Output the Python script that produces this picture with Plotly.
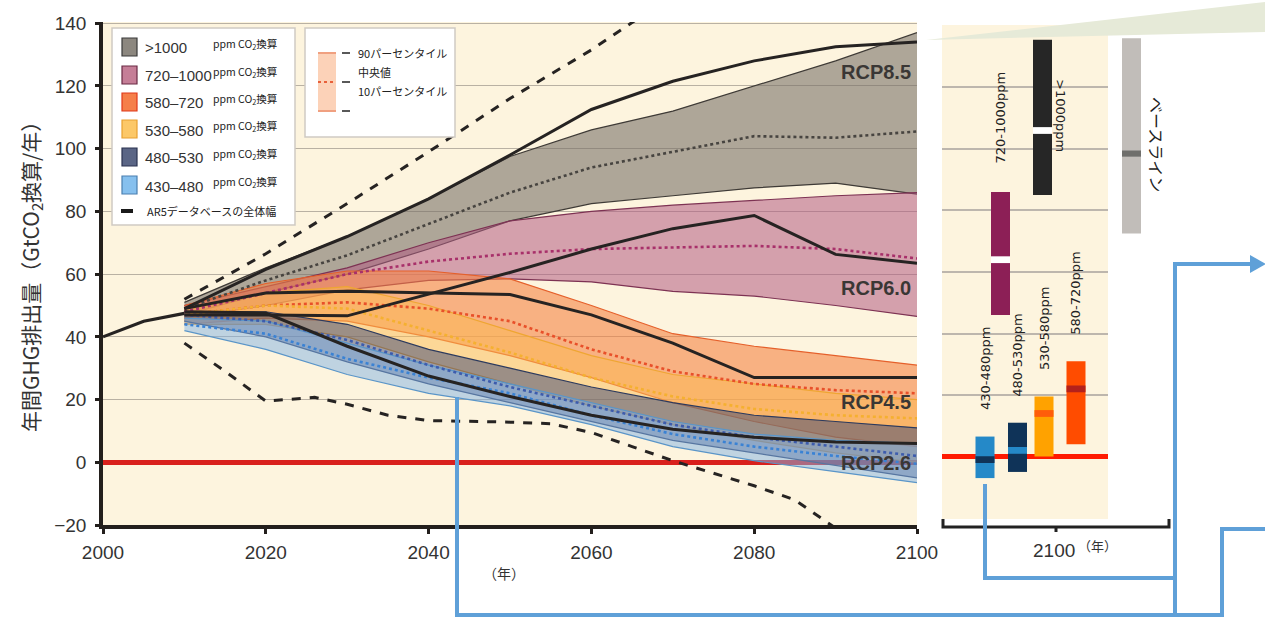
import plotly.graph_objects as go

W, H = 1265, 618

# ---------------- data ----------------
years = [2010, 2020, 2030, 2040, 2050, 2060, 2070, 2080, 2090, 2100]

# 10th percentile / median / 90th percentile by CO2-eq concentration category (GtCO2eq/yr)
c1000_p10 = [47, 54, 60, 68, 77, 82.5, 85, 87.5, 89, 85.5]
c1000_med = [49, 58, 66, 76, 86, 94, 99, 104, 103.5, 105.5]
c1000_p90 = [51, 62, 72, 84, 97.5, 106, 112, 120, 128, 137]

c720_p10 = [46, 50, 55, 58, 58.5, 57.5, 54.5, 53, 50, 46.5]
c720_med = [48, 54, 60, 64, 66.5, 68, 68.5, 69, 68, 65]
c720_p90 = [50, 56, 62, 70, 77, 80, 82, 83.5, 85, 86]

c580_p10 = [44, 46, 45, 40, 34, 27, 19, 13, 8, 5]
c580_med = [47, 50, 51, 49, 45, 36, 29, 25, 23, 22]
c580_p90 = [50, 57, 61, 61, 58.5, 50, 41, 37, 34, 31]

c530_p10 = [44, 44, 40, 32, 25, 18, 12, 7, 3, 0]
c530_med = [47, 50, 49, 42, 35, 27, 21, 17, 15, 14]
c530_p90 = [49, 54, 56, 50, 42, 34, 28, 25, 22, 20]

c480_p10 = [45, 40, 32, 25, 19, 13, 7, 3, -1, -5]
c480_med = [47, 45, 39, 31, 24, 18, 12, 8, 5, 2]
c480_p90 = [48, 48, 44, 36, 30, 24, 19, 15, 13, 11]

c430_p10 = [42, 36, 28, 22, 18, 12, 5, 0.5, -3, -6.5]
c430_med = [44, 41, 33, 27, 22, 15, 9, 5, 2, -0.5]
c430_p90 = [46, 45, 38, 31, 25, 19, 13, 9, 7, 6]

# historical emissions
hist_years = [2000, 2005, 2010]
hist_vals = [40, 45, 47.5]

# RCP pathways
rcp85 = [49, 61.5, 72, 84, 98, 112.5, 121.5, 128, 132.5, 134]
rcp60 = [47, 47, 46.7, 53.5, 60.5, 68, 74.5, 78.7, 66.3, 63.5]
rcp45 = [49, 54, 54.5, 54, 53.5, 47, 38, 27, 27, 27]
rcp26 = [48, 47.6, 37, 27.5, 21, 15, 10.5, 8, 6.5, 6]

# full range of the AR5 scenario database
ar5_hi_years = [2010, 2020, 2030, 2040, 2050, 2060, 2066]
ar5_hi_vals = [52, 66.5, 82.5, 99, 116, 131.5, 142]
ar5_lo_years = [2010, 2015, 2020, 2023, 2026, 2030, 2035, 2040, 2050, 2055, 2060,
                2065, 2070, 2080, 2085, 2090]
ar5_lo_vals = [38, 29, 19.5, 20, 20.7, 18.5, 15, 13.3, 12.8, 12.3, 9.5,
               5, 0.5, -7.5, -12, -21]

# 2100 ranges (right panel)
bar_labels = ["430-480ppm", "480-530ppm", "530-580ppm", "580-720ppm",
              "720-1000ppm", ">1000ppm"]
bar_low = [-7, -5, 0, 4, 46, 85]
bar_high = [6.5, 11, 19.5, 31, 86, 135.5]
bar_med = [-1, 2, 14, 22, 64, 106]
base_label = "ベースライン"
base_low, base_high, base_med = 72.5, 136, 98.5

legend_cats = [">1000", "720–1000", "580–720", "530–580", "480–530", "430–480"]
y_ticks = [-20, 0, 20, 40, 60, 80, 100, 120, 140]
x_ticks = [2000, 2020, 2040, 2060, 2080, 2100]

# ---------------- styles ----------------
COND = "Liberation Sans, Arial, sans-serif"
JP = "Noto Sans CJK JP, sans-serif"
DV = "DejaVu Sans, sans-serif"
CREAM = "#fdf4de"

band_fill = ["rgba(118,110,102,0.58)", "rgba(178,91,131,0.55)", "rgba(244,130,64,0.58)",
             "rgba(252,185,80,0.5)", "rgba(60,72,118,0.5)", "rgba(130,178,228,0.5)"]
band_edge = ["#3e3a36", "#7d3253", "#e5602b", "#efa632", "#2c3a5e", "#5a95c8"]
band_med_col = ["#474440", "#a8306a", "#e8502a", "#f5b030", "#3d5cad", "#3a82d4"]
legend_sq = ["#8c877f", "#c57e97", "#f57f4a", "#fcc868", "#5a6585", "#86c0ee"]
legend_sq_edge = ["#3a3a3a", "#6a2a45", "#e0391a", "#e8a030", "#2a3350", "#4a7fb0"]

bar_pos = [985, 1017.5, 1044, 1076, 1000.5, 1042.5]
bar_col = ["#2589c8", "#0f3358", "#ffa200", "#ff4c00", "#8c1f56", "#262626"]
bar_med_col = ["#103358", "#2589c8", "#ff5d0a", "#b3211b", "#ffffff", "#ffffff"]
base_pos = 1131.5


def px(x):
    return x / W


def py(y):
    return 1 - y / H


fig = go.Figure()

# ---------------- concentration bands ----------------
bands = [(c1000_p10, c1000_med, c1000_p90), (c720_p10, c720_med, c720_p90),
         (c580_p10, c580_med, c580_p90), (c530_p10, c530_med, c530_p90),
         (c480_p10, c480_med, c480_p90), (c430_p10, c430_med, c430_p90)]
for i, (lo, med, hi) in enumerate(bands):
    fig.add_trace(go.Scatter(x=years, y=lo, mode="lines",
                             line=dict(color=band_edge[i], width=1.2),
                             hoverinfo="skip", showlegend=False))
    fig.add_trace(go.Scatter(x=years, y=hi, mode="lines", fill="tonexty",
                             fillcolor=band_fill[i],
                             line=dict(color=band_edge[i], width=1.2),
                             hoverinfo="skip", showlegend=False))
for i, (lo, med, hi) in enumerate(bands):
    fig.add_trace(go.Scatter(x=years, y=med, mode="lines",
                             line=dict(color=band_med_col[i], width=2.6, dash="dot"),
                             hoverinfo="skip", showlegend=False))

# AR5 full range
for xs, ys in [(ar5_hi_years, ar5_hi_vals), (ar5_lo_years, ar5_lo_vals)]:
    fig.add_trace(go.Scatter(x=xs, y=ys, mode="lines",
                             line=dict(color="#262322", width=3, dash="dash"),
                             hoverinfo="skip", showlegend=False))

# historical + RCP lines
fig.add_trace(go.Scatter(x=hist_years, y=hist_vals, mode="lines",
                         line=dict(color="#262322", width=3.2), showlegend=False))
for r in [rcp85, rcp60, rcp45, rcp26]:
    fig.add_trace(go.Scatter(x=years, y=r, mode="lines",
                             line=dict(color="#262322", width=3), showlegend=False))

# ---------------- right panel: 2100 ranges ----------------
fig.add_trace(go.Bar(x=bar_pos, base=bar_low,
                     y=[h - l for h, l in zip(bar_high, bar_low)],
                     width=19, marker=dict(color=bar_col, line=dict(width=0)),
                     xaxis="x2", yaxis="y2", showlegend=False))
fig.add_trace(go.Bar(x=bar_pos, base=[m - 1.1 for m in bar_med], y=[2.2] * len(bar_med),
                     width=19, marker=dict(color=bar_med_col, line=dict(width=0)),
                     xaxis="x2", yaxis="y2", showlegend=False))
fig.add_trace(go.Bar(x=[base_pos], base=[base_low], y=[base_high - base_low],
                     width=19, marker=dict(color="#c1bdb9", line=dict(width=0)),
                     xaxis="x3", yaxis="y3", showlegend=False))
fig.add_trace(go.Bar(x=[base_pos], base=[base_med - 1.0], y=[2.0],
                     width=19, marker=dict(color="#6f6f6c", line=dict(width=0)),
                     xaxis="x3", yaxis="y3", showlegend=False))

# ---------------- axes ----------------
main_ydom = [py(525), py(22)]
side_ydom = [py(519), py(25)]
fig.update_layout(
    width=W, height=H, margin=dict(l=0, r=0, t=0, b=0, autoexpand=False),
    paper_bgcolor="white", plot_bgcolor="rgba(0,0,0,0)",
    barmode="overlay", showlegend=False,
    xaxis=dict(domain=[px(103), px(917)], range=[2000, 2100], tickvals=x_ticks,
               automargin=False,
               showgrid=False, zeroline=False, showline=True, linecolor="#231f1c",
               linewidth=3.5, ticks="outside", ticklen=5, tickwidth=3,
               tickcolor="#231f1c", tickfont=dict(family=COND, size=19, color="#333"),
               ticklabelstandoff=2),
    yaxis=dict(domain=main_ydom, range=[-20, 140.4], tickvals=y_ticks,
               automargin=False,
               showgrid=True, gridcolor="#b9b1a3", gridwidth=1.2,
               zeroline=True, zerolinecolor="#d9201c", zerolinewidth=5,
               showline=True, linecolor="#231f1c", linewidth=3.5,
               ticks="outside", ticklen=4, tickwidth=2.5, tickcolor="#231f1c",
               tickfont=dict(family=COND, size=19, color="#333"), ticklabelstandoff=5),
    xaxis2=dict(domain=[px(942), px(1108)], range=[942, 1108], anchor="y2",
                automargin=False,
                showgrid=False, zeroline=False, showline=False, showticklabels=False,
                ticks=""),
    yaxis2=dict(domain=side_ydom, range=[-20.3, 140.3], anchor="x2",
                automargin=False,
                tickvals=y_ticks, showgrid=True, gridcolor="#bdb6ad", gridwidth=1.5,
                zeroline=True, zerolinecolor="#ff1a00", zerolinewidth=4.5,
                showline=False, showticklabels=False, ticks=""),
    xaxis3=dict(domain=[px(1110), px(1170)], range=[1110, 1170], anchor="y3",
                automargin=False,
                showgrid=False, zeroline=False, showline=False, showticklabels=False,
                ticks=""),
    yaxis3=dict(domain=side_ydom, range=[-20.3, 140.3], anchor="x3",
                automargin=False,
                showgrid=False, zeroline=False, showline=False, showticklabels=False,
                ticks=""),
)

shapes = []
annos = []


def note(x, y, text, size, family=JP, color="#222", xanchor="center", yanchor="middle",
         angle=0, **kw):
    annos.append(dict(x=px(x), y=py(y), xref="paper", yref="paper", text=text,
                      showarrow=False, xanchor=xanchor, yanchor=yanchor, textangle=angle,
                      font=dict(family=family, size=size, color=color), **kw))


# panel backgrounds
shapes.append(dict(type="rect", xref="x domain", yref="y domain", x0=0, x1=1, y0=0, y1=1,
                   fillcolor=CREAM, line=dict(width=0), layer="below"))
shapes.append(dict(type="rect", xref="x2 domain", yref="y2 domain", x0=0, x1=1, y0=0, y1=1,
                   fillcolor=CREAM, line=dict(width=0), layer="below"))


def path(points):
    return "M " + " L ".join(f"{px(x):.5f},{py(y):.5f}" for x, y in points)


# zoom wedge
shapes.append(dict(type="path", xref="paper", yref="paper",
                   path=path([(926, 40), (1265, 2), (1265, 32)]) + " Z",
                   fillcolor="#e6ead8", line=dict(width=0), layer="above"))

# bracket under the 2100 panel
shapes.append(dict(type="path", xref="paper", yref="paper",
                   path=path([(943, 519), (943, 527), (1169, 527), (1169, 519)]),
                   line=dict(color="#222", width=3), layer="above"))
shapes.append(dict(type="line", xref="paper", yref="paper", x0=px(1056), x1=px(1056),
                   y0=py(527), y1=py(532), line=dict(color="#222", width=3)))

# blue connector lines
BLUE = "#5fa0d8"
for pts in [[(457, 397), (457, 615), (1222, 615), (1222, 529), (1265, 529)],
            [(985, 484), (985, 578), (1175, 578)],
            [(1175, 615), (1175, 264), (1254, 264)]]:
    shapes.append(dict(type="path", xref="paper", yref="paper", path=path(pts),
                       line=dict(color=BLUE, width=4), layer="above"))
shapes.append(dict(type="path", xref="paper", yref="paper",
                   path=path([(1250, 255), (1266, 264), (1250, 273)]) + " Z",
                   fillcolor=BLUE, line=dict(width=0), layer="above"))

# legend 1 box
shapes.append(dict(type="rect", xref="paper", yref="paper", x0=px(112), x1=px(295),
                   y0=py(225), y1=py(28), fillcolor="white",
                   line=dict(color="#cfcac4", width=1.5), layer="above"))
row_y = [47, 75, 102, 129, 157, 185]
for i, cat in enumerate(legend_cats):
    yc = row_y[i]
    shapes.append(dict(type="rect", xref="paper", yref="paper", x0=px(122), x1=px(137),
                       y0=py(yc + 9), y1=py(yc - 9), fillcolor=legend_sq[i],
                       line=dict(color=legend_sq_edge[i], width=1.2), layer="above"))
    note(143, yc + 1, cat, 15, family=COND, color="#333", xanchor="left")
    note(211, yc - 3, "ppm CO<sub>2</sub>換算", 10.5, xanchor="left")
shapes.append(dict(type="line", xref="paper", yref="paper", x0=px(121), x1=px(139),
                   y0=py(211), y1=py(211),
                   line=dict(color="#1a1a1a", width=4, dash="dash"), layer="above"))
note(145, 211, "AR5データベースの全体幅", 11, xanchor="left")

# legend 2 box
shapes.append(dict(type="rect", xref="paper", yref="paper", x0=px(305), x1=px(455),
                   y0=py(137), y1=py(28), fillcolor="white",
                   line=dict(color="#cfcac4", width=1.5), layer="above"))
shapes.append(dict(type="rect", xref="paper", yref="paper", x0=px(318), x1=px(336),
                   y0=py(111), y1=py(53), fillcolor="#fcd2b8",
                   line=dict(width=0), layer="above"))
for yy, dash, col in [(53, "solid", "#f0a080"), (111, "solid", "#f0a080"),
                      (82, "dot", "#e8603a")]:
    shapes.append(dict(type="line", xref="paper", yref="paper", x0=px(318), x1=px(336),
                       y0=py(yy), y1=py(yy), line=dict(color=col, width=2, dash=dash),
                       layer="above"))
    shapes.append(dict(type="line", xref="paper", yref="paper", x0=px(342), x1=px(350),
                       y0=py(yy), y1=py(yy), line=dict(color="#222", width=1.5),
                       layer="above"))
for txt, yy in [("90パーセンタイル", 53), ("中央値", 72), ("10パーセンタイル", 91)]:
    note(356, yy, txt, 11, xanchor="left")

# RCP labels
for txt, yy in [("RCP8.5", 72), ("RCP6.0", 288), ("RCP4.5", 402), ("RCP2.6", 463)]:
    note(913, yy, f"<b>{txt}</b>", 20, family=COND, color="#3a3735", xanchor="right")

# axis titles
note(31, 272, "年間GHG排出量（GtCO<sub>2</sub>換算/年）", 21, color="#333", angle=-90)
note(504, 573, "（年）", 14, color="#333")
note(1077, 550, "2100", 19, family=COND, color="#333", xanchor="right")
note(1076, 545, "（年）", 13, color="#333", xanchor="left")

# right panel category labels
for i in range(5):
    annos.append(dict(x=bar_pos[i], y=bar_high[i], xref="x2", yref="y2",
                      text=bar_labels[i], textangle=-90, showarrow=False,
                      xanchor="center", yanchor="bottom", yshift=24 if i < 4 else 26,
                      font=dict(family=DV, size=13, color="#222")))
note(1061, 115, bar_labels[5], 13, family=DV, angle=90)
note(1157, 144, base_label, 16, angle=90)

fig.update_layout(shapes=shapes, annotations=annos)
fig.write_html("out.html")
